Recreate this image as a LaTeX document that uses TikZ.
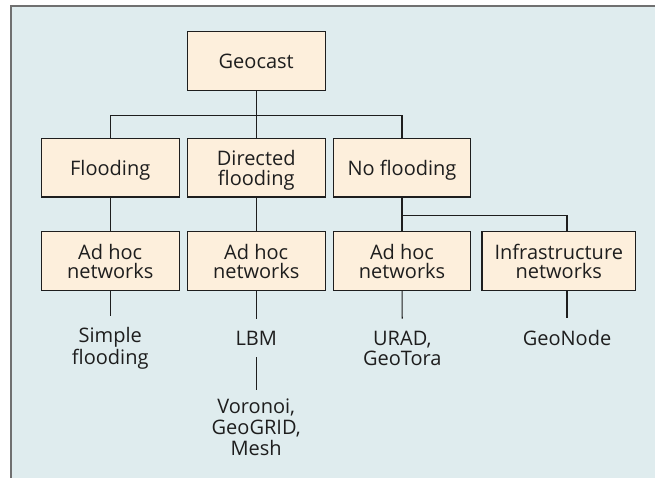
\documentclass[tikz,border=0pt]{standalone}
\usepackage{fontspec}
\setmainfont{Open Sans}
\definecolor{panel}{RGB}{223,236,238}
\definecolor{boxfill}{RGB}{253,239,220}
\definecolor{framegrey}{RGB}{112,112,112}
\definecolor{ink}{RGB}{30,30,30}
\begin{document}
\begin{tikzpicture}[x=1pt,y=-1pt,
  every node/.style={font=\fontsize{20}{19.5}\selectfont, text=ink},
  catbox/.style={draw=ink, line width=1.1pt, fill=boxfill, align=center,
                 inner sep=0pt, text depth=0pt,
                 minimum height=58.6pt, minimum width=137.7pt},
  leaf/.style={align=center, inner sep=0pt, outer ysep=12pt, anchor=base,
               font=\fontsize{20}{20}\selectfont},
  link/.style={draw=ink, line width=1.1pt}]
\useasboundingbox (0,0) rectangle (655,478);

% panel and its frame
\fill[panel] (11,6) rectangle (655,478);
\draw[framegrey, line width=1.2pt] (11,478) -- (11,6) -- (655,6);

% category boxes
\node[catbox] (geo)   at (256.2,61)    {Geocast};
\node[catbox] (flood) at (110.2,167.7) {Flooding};
\node[catbox] (dir)   at (256.2,167.7) {Directed\\flooding};
\node[catbox] (nof)   at (402,167.7)   {No flooding};
\node[catbox] (ah1)   at (110.2,261.2) {Ad hoc\\networks};
\node[catbox] (ah2)   at (256.2,261.2) {Ad hoc\\networks};
\node[catbox] (ah3)   at (402,261.2)   {Ad hoc\\networks};
\node[catbox, minimum width=153.7pt] (infra) at (558.8,261.2) {Infrastructure\\networks};

% protocol names (anchored at the baseline of their last line)
\node[leaf] (simple)  at (110.2,364)   {Simple\\flooding};
\node[leaf] (lbm)     at (256.2,345)   {LBM};
\node[leaf, font=\fontsize{20}{20.6}\selectfont, outer ysep=9pt]
            (vor)     at (256.2,455)   {Voronoi,\\GeoGRID,\\Mesh};
\node[leaf] (urad)    at (402.3,365)   {URAD,\\GeoTora};
\node[leaf] (geonode) at (567,345)     {GeoNode};

% tree connectors
\coordinate (bus1) at (256.2,115.7);
\coordinate (bus2) at (567,215.7);
\draw[link] (geo) -- (dir);
\draw[link] (flood.north) |- (bus1) -| (nof.north);
\draw[link] (flood) -- (ah1);
\draw[link] (dir) -- (ah2);
\draw[link] (nof) -- (ah3);
\draw[link] (nof.south |- bus2) -- (bus2) -- (bus2 |- infra.north);
\draw[link] (ah1) -- (simple);
\draw[link] (ah2) -- (lbm);
\draw[link] (lbm) -- (vor);
\draw[link] (ah3) -- (urad);
\draw[link] (infra.south -| geonode.north) -- (geonode.north);
\end{tikzpicture}
\end{document}
